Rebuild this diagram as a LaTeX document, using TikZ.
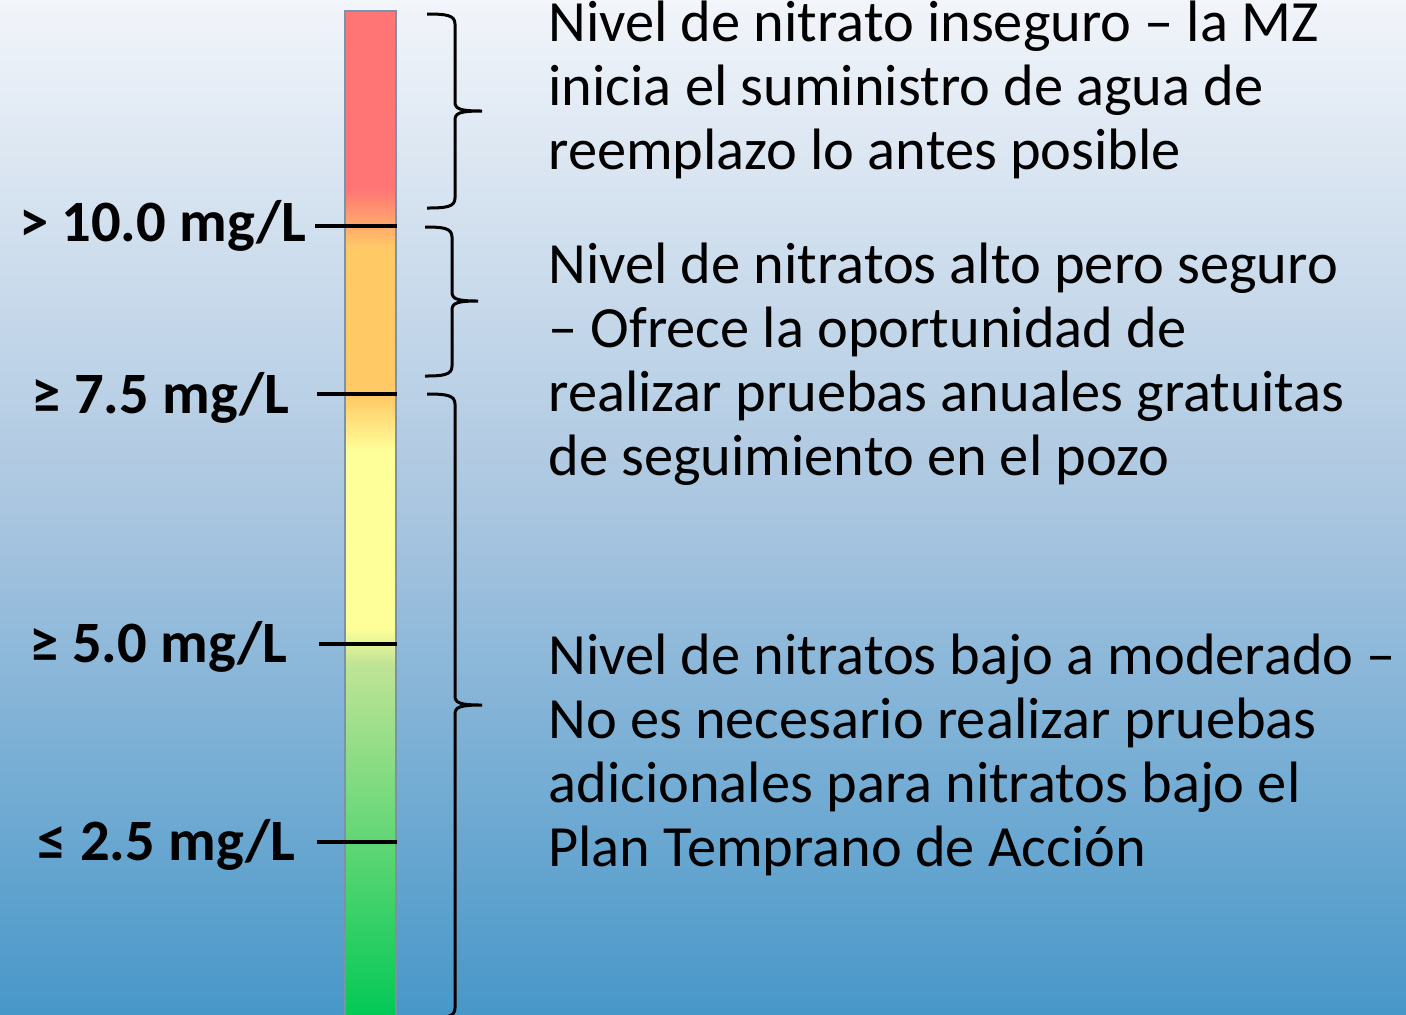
\documentclass[tikz,border=0pt]{standalone}
\usepackage{fontspec}
\setmainfont{Carlito}
\usepackage{xcolor}
\usetikzlibrary{positioning}
\definecolor{bgtop}{RGB}{242,245,250}
\definecolor{bgmid}{RGB}{170,198,224}
\definecolor{bgbot}{RGB}{72,151,201}
\definecolor{barR}{RGB}{255,117,117}
\definecolor{barO}{RGB}{255,201,102}
\definecolor{barY}{RGB}{255,255,153}
\definecolor{barLG}{RGB}{192,228,150}
\definecolor{barG}{RGB}{0,200,85}
\definecolor{barline}{RGB}{122,146,170}
% stops between 25bp and 75bp fill the bar
\pgfdeclareverticalshading{barshade}{100bp}{color(0bp)=(barG); color(25bp)=(barG); color(42.72bp)=(barLG); color(44.46bp)=(barY); color(53.22bp)=(barY); color(55.94bp)=(barO); color(63.3bp)=(barO); color(66.2bp)=(barR); color(75bp)=(barR); color(100bp)=(barR)}
\tikzset{
  lbl/.style={font=\fontsize{29.3}{30}\selectfont\bfseries, anchor=base east, inner sep=0},
  desc/.style={font=\fontsize{29.2}{31.85}\selectfont, align=left, anchor=north west, inner sep=0},
  tickline/.style={line width=2pt, black},
  bracestyle/.style={line width=1.5pt, black}
}
\newcommand{\curlybrace}[6]{%
  \draw[bracestyle] (#1,#4) .. controls (#2-9,#4) and (#2,#4+1) .. (#2,#4+10) -- (#2,#5-9)
    .. controls (#2,#5-2) and (#2+5,#5) .. (#3,#5)
    .. controls (#2+5,#5) and (#2,#5+2) .. (#2,#5+9) -- (#2,#6-10)
    .. controls (#2,#6-1) and (#2-9,#6) .. (#1,#6);}
\begin{document}
\begin{tikzpicture}[x=0.5pt, y=-0.5pt]
	\useasboundingbox (0,0) rectangle (1406,1014);
	\shade[top color=bgtop, bottom color=bgbot, middle color=bgmid] (0,0) rectangle (1406,1014);
	
	% scale bar
	\node (bar) [draw=barline, line width=1pt, shading=barshade, minimum width=25.5pt, minimum height=505pt, inner sep=0, anchor=north west] at (344,10) {};
	
	\draw [tickline] (315,226) -- (bar.east |- 0,226);
	\draw [tickline] (317,394) -- (bar.east |- 0,394);
	\draw [tickline] (319,644) -- (bar.east |- 0,644);
	\draw [tickline] (317,842) -- (bar.east |- 0,842);
	
	\node (l10) [lbl] at (307,241) {> 10.0 mg/L};
	\node (l75) [lbl] at (290,413) {≥ 7.5 mg/L};
	\node (l50) [lbl] at (288,662) {≥ 5.0 mg/L};
	\node (l25) [lbl] at (296,860) {≤ 2.5 mg/L};
	
	% braces
	\curlybrace{427}{455}{482}{14}{111}{208}
	\curlybrace{425}{452}{478}{227}{301}{376}
	\curlybrace{427}{455}{482}{394}{705}{1018}
	
	\node (t1) [desc] at (548,1) {Nivel de nitrato inseguro – la MZ\\inicia el suministro de agua de\\reemplazo lo antes posible};
	\node (t2) [desc] at (548,243) {Nivel de nitratos alto pero seguro\\– Ofrece la oportunidad de\\realizar pruebas anuales gratuitas\\de seguimiento en el pozo};
	\node (t3) [desc] at (548,634) {Nivel de nitratos bajo a moderado –\\No es necesario realizar pruebas\\adicionales para nitratos bajo el\\Plan Temprano de Acción};
	
\end{tikzpicture}
\end{document}
